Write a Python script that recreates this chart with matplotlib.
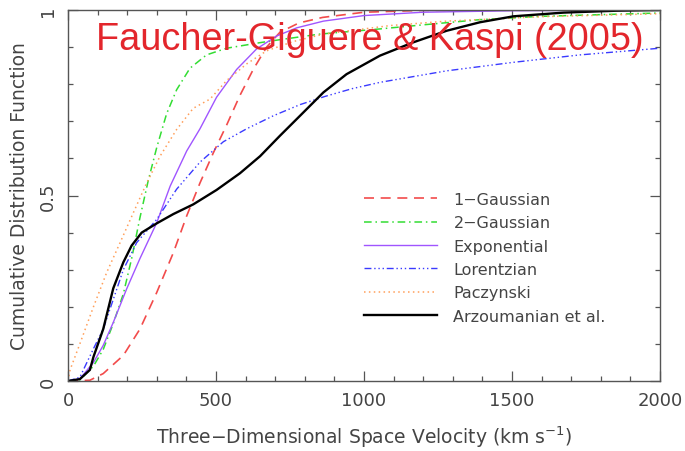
import matplotlib
matplotlib.use("Agg")
import matplotlib.pyplot as plt
from matplotlib.ticker import MultipleLocator

# ---- data ----
v_gauss1 = [0, 74, 119, 187, 243, 300, 356, 401, 446, 491, 536, 581, 626, 671, 716, 780, 860, 1000, 1200, 2000]
f_gauss1 = [0, 0.002, 0.02, 0.069, 0.14, 0.239, 0.346, 0.445, 0.534, 0.615, 0.69, 0.77, 0.84, 0.9, 0.94, 0.965, 0.98, 0.994, 0.999, 1.0]

v_gauss2 = [0, 40, 86, 119, 153, 187, 215, 243, 271, 300, 333, 367, 412, 468, 536, 649, 716, 850, 1054, 1200, 1392, 1600, 2000]
f_gauss2 = [0, 0.003, 0.04, 0.085, 0.155, 0.235, 0.33, 0.44, 0.54, 0.63, 0.72, 0.785, 0.843, 0.879, 0.897, 0.912, 0.92, 0.935, 0.949, 0.96, 0.974, 0.983, 0.992]

v_expo = [0, 40, 86, 119, 153, 198, 243, 300, 345, 401, 446, 502, 570, 637, 705, 773, 863, 1000, 1200, 1500, 2000]
f_expo = [0, 0.006, 0.05, 0.096, 0.158, 0.248, 0.33, 0.427, 0.525, 0.62, 0.68, 0.765, 0.84, 0.895, 0.93, 0.952, 0.97, 0.985, 0.994, 0.998, 1.0]

v_lor = [0, 40, 86, 119, 153, 187, 232, 300, 367, 446, 525, 604, 694, 784, 868, 960, 1054, 1279, 1505, 1730, 2000]
f_lor = [0, 0.01, 0.087, 0.14, 0.22, 0.30, 0.373, 0.436, 0.517, 0.59, 0.645, 0.68, 0.715, 0.745, 0.767, 0.788, 0.805, 0.836, 0.859, 0.879, 0.897]

v_pac = [0, 7, 40, 86, 131, 176, 221, 266, 311, 367, 423, 480, 536, 604, 671, 761, 863, 1088, 1279, 1600, 2000]
f_pac = [0, 0.03, 0.1, 0.2, 0.293, 0.373, 0.454, 0.534, 0.606, 0.678, 0.735, 0.76, 0.81, 0.855, 0.89, 0.915, 0.935, 0.958, 0.97, 0.982, 0.99]

v_arz = [0, 40, 74, 86, 119, 153, 187, 215, 249, 300, 356, 423, 502, 581, 649, 716, 784, 863, 941, 1054, 1167, 1279, 1392, 1505, 1675, 1850, 2000]
f_arz = [0, 0.005, 0.03, 0.065, 0.14, 0.25, 0.32, 0.365, 0.4, 0.425, 0.45, 0.476, 0.515, 0.56, 0.606, 0.661, 0.715, 0.778, 0.827, 0.877, 0.913, 0.944, 0.967, 0.983, 0.993, 0.998, 1.0]

labels = ["1\u2212Gaussian", "2\u2212Gaussian", "Exponential", "Lorentzian", "Paczynski", "Arzoumanian et al."]

x_ticks = [0, 500, 1000, 1500, 2000]
y_ticks = [0, 0.5, 1]
y_ticklabels = ["0", "0.5", "1"]

TXT = "#444444"

fig = plt.figure(figsize=(6.85, 4.52), dpi=100)
ax = fig.add_axes([68/685, 1-382/452, (660-68)/685, (382-11)/452])

ax.plot(v_gauss1, f_gauss1, color="#f24b4b", lw=1.2, dashes=(6, 4), label=labels[0])
ax.plot(v_gauss2, f_gauss2, color="#33dd33", lw=1.1, dashes=(5, 2.5, 1, 2.5), label=labels[1])
ax.plot(v_expo, f_expo, color="#a055ff", lw=1.0, label=labels[2])
ax.plot(v_lor, f_lor, color="#3a3aff", lw=1.0, dashes=(5, 2, 1, 2, 1, 2, 1, 2), label=labels[3])
ax.plot(v_pac, f_pac, color="#ff9f5a", lw=1.1, dashes=(1, 2.2), label=labels[4])
ax.plot(v_arz, f_arz, color="black", lw=1.7, label=labels[5])

ax.set_xlim(0, 2000)
ax.set_ylim(0, 1)
ax.set_xticks(x_ticks)
ax.set_xticklabels([str(t) for t in x_ticks])
ax.set_yticks(y_ticks)
ax.set_yticklabels(y_ticklabels, rotation=90, va="center")
ax.xaxis.set_minor_locator(MultipleLocator(100))
ax.yaxis.set_minor_locator(MultipleLocator(0.1))
ax.tick_params(which="both", direction="in", top=True, right=True, colors="#555555",
               labelcolor=TXT, labelsize=13)
ax.tick_params(which="major", length=7, width=0.9)
ax.tick_params(which="minor", length=3.5, width=0.9)
ax.tick_params(axis="x", pad=7)
ax.tick_params(axis="y", pad=8)
for s in ax.spines.values():
    s.set_color("#555555")
    s.set_linewidth(1.0)

ax.set_xlabel("Three\u2212Dimensional Space Velocity (km s$^{-1}$)", fontsize=13.5, color=TXT, labelpad=11)
ax.set_ylabel("Cumulative Distribution Function", fontsize=13.5, color=TXT, labelpad=7)

leg = ax.legend(loc="upper left", bbox_to_anchor=((364-68)/592, (382-193)/371), frameon=False,
                fontsize=11.5, handlelength=4.6, handletextpad=1.0, labelspacing=0.52,
                borderpad=0, borderaxespad=0)
for t in leg.get_texts():
    t.set_color(TXT)

fig.text(370/685, 1-40/452, "Faucher-Giguere & Kaspi (2005)", color="#e3262c",
         fontsize=27.3, family="Liberation Sans", ha="center", va="center")

fig.savefig("out.png", dpi=100)
